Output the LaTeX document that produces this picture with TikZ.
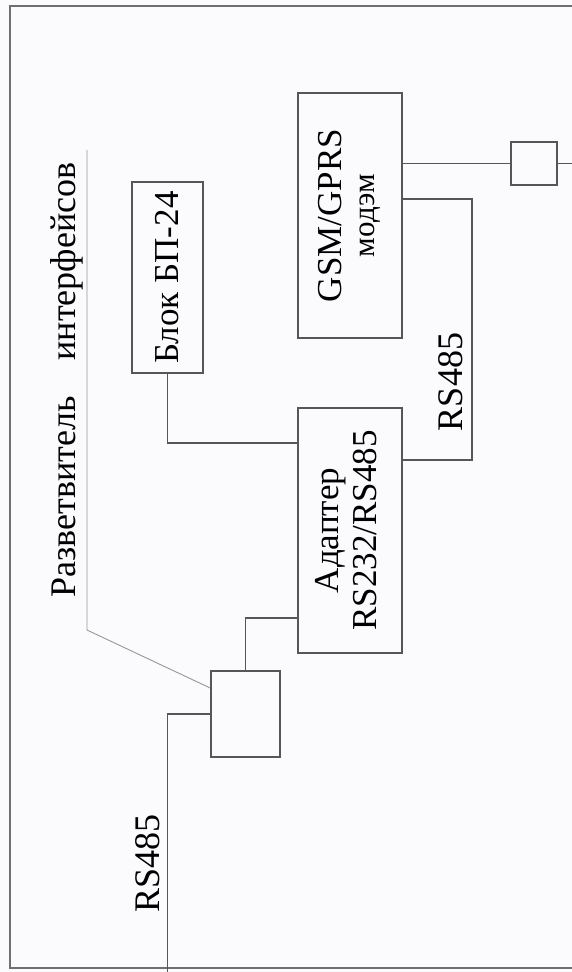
\documentclass[tikz,border=0pt]{standalone}
\usepackage{fontspec}
\setmainfont{Liberation Serif}
\usepackage{graphicx}
\usetikzlibrary{calc}

\definecolor{paper}{RGB}{251,251,253}
\definecolor{wire}{RGB}{85,85,90}
\definecolor{lead}{RGB}{150,150,155}

\tikzset{
  blk/.style={rectangle, draw=wire, line width=1.6pt, inner sep=0pt, font=\fontsize{35}{38}\selectfont},
  wr/.style={draw=wire, line width=1.6pt},
  lbl/.style={rotate=90, anchor=base, inner sep=0pt, font=\fontsize{36}{38}\selectfont}
}

\begin{document}
\begin{tikzpicture}[x=1pt, y=-1pt]
        \fill[paper] (0,0) rectangle (572,972);
        \useasboundingbox (0,0) rectangle (572,972);

        % outer frame
        \draw[wr, draw=wire!85] (575,6) -- (10,6) -- (10,968) -- (575,968);

        \node[blk, minimum width=104pt, minimum height=245pt] at (350,215.5) (GSM) {\rotatebox{90}{\begin{tabular}{@{}c@{}}GSM/GPRS\\[-5pt]{\fontsize{31}{33}\selectfont модэм}\end{tabular}}};
        \node[blk, minimum width=104pt, minimum height=245pt] at (350,530.5) (ADP) {\rotatebox{90}{\begin{tabular}{@{}c@{}}Адаптер\\RS232/RS485\end{tabular}}};
        \node[blk, minimum width=71pt, minimum height=191pt] at (167.5,277.5) (BP) {\rotatebox{90}{Блок БП-24}};
        \node[blk, minimum width=69pt, minimum height=86pt] at (245.5,714) (SPL) {};
        \node[blk, minimum width=46pt, minimum height=43pt] at (534,163.5) (CON) {};

        \coordinate (rsBend) at (472,460);
        \coordinate (conEnd) at (575,163.5);
        \coordinate (busEnd) at (167.5,975);
        \coordinate (leadTop) at (87,150);
        \coordinate (leadBend) at (87,630);

        \draw[wr] (CON.west -| GSM.east) -- (CON.west);
        \draw[wr] (CON.east) -- (conEnd);
        \draw[wr] ([yshift=16.5pt]GSM.east) -| (rsBend) -- ([yshift=70.5pt]ADP.east);
        \draw[wr] (BP.south) |- ([yshift=87.5pt]ADP.west);
        \draw[wr] ([yshift=-87.5pt]ADP.west) -| (SPL.north);
        \draw[wr] (SPL.west) -| (busEnd);
        \draw[draw=lead, line width=0.9pt] (leadTop) -- (leadBend) -- ([yshift=26pt]SPL.west);

        \node[lbl] at (462,382) (rsTop) {RS485};
        \node[lbl] at (159,863) (rsBot) {RS485};
        \node[lbl] at (75,380) (splLbl) {Разветвитель\hspace{1em}интерфейсов};

    \end{tikzpicture}
\end{document}
